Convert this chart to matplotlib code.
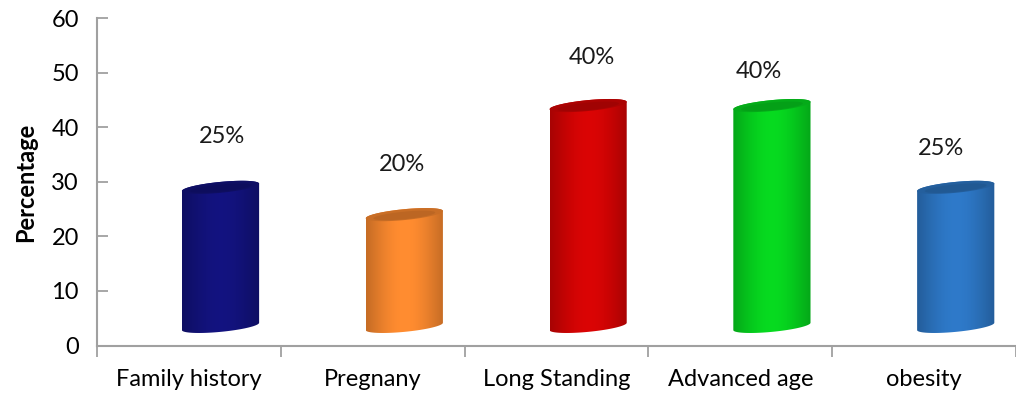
import numpy as np
import matplotlib
matplotlib.use("Agg")
import matplotlib.pyplot as plt
from matplotlib.path import Path
from matplotlib.patches import PathPatch
from matplotlib.colors import to_rgb

# data
categories = ["Family history", "Pregnany", "Long Standing", "Advanced age", "obesity"]
values = [25, 20, 40, 40, 25]
labels = ["25%", "20%", "40%", "40%", "25%"]
colors = ["#12127a", "#f5862e", "#d00404", "#06d01e", "#2c74c0"]

# placement of the value labels (as drawn in the original)
label_dx = [0.18, 0.16, 0.19, 0.10, 0.09]
label_dy = [13.3, 13.1, 12.8, 10.2, 11.2]

plt.rcParams['font.family'] = ['Lato', 'DejaVu Sans']

fig = plt.figure(figsize=(10.16, 3.97), dpi=100)
ax = fig.add_axes([97 / 1016, (397 - 345.5) / 397, 1 - 97 / 1016, (345.5 - 18.3) / 397])
ax.set_xlim(-0.5, 4.44)
ax.set_ylim(0, 60)

depth_x = 0.172    # 3d shift of the cylinders
depth_y = 3.5
half_w = 0.21
half_h = 1.0       # vertical semi axis of the caps
shear = 3.2        # caps tilted up to the right


def ring(cx, cy, t):
    x = cx + half_w * np.cos(t)
    y = cy + half_h * np.sin(t) + shear * (x - cx)
    return x, y


def cylinder(i, v, col):
    cx = i + depth_x
    yb = depth_y
    yt = v + depth_y + 0.5
    t1 = np.linspace(np.pi, 2 * np.pi, 60)
    t2 = np.linspace(0, np.pi, 60)
    xb, ybb = ring(cx, yb, t1)
    xt, ytt = ring(cx, yt, t2)
    xs = np.concatenate([xb, xt, [xb[0]]])
    ys = np.concatenate([ybb, ytt, [ybb[0]]])
    path = Path(np.column_stack([xs, ys]))
    patch = PathPatch(path, facecolor="none", edgecolor="none")
    ax.add_patch(patch)

    # horizontal shading across the body
    base = np.array(to_rgb(col))
    u = np.linspace(-1, 1, 200)
    shade = 0.78 + 0.27 * np.cos(u * np.pi / 2.2) ** 1.2
    img = np.clip(base[None, :] * shade[:, None], 0, 1)
    img = img[None, :, :]
    im = ax.imshow(img, extent=[cx - half_w, cx + half_w, ys.min(), ys.max()],
                   aspect="auto", interpolation="bilinear", zorder=2)
    im.set_clip_path(patch)

    # top cap
    tt = np.linspace(0, 2 * np.pi, 120)
    xc, yc = ring(cx, yt, tt)
    ax.fill(xc, yc, color=base * 0.82, zorder=3, lw=0)
    xi, yi = cx + 0.8 * half_w * np.cos(tt), yt - 0.15 + 0.7 * half_h * np.sin(tt)
    yi = yi + shear * (xi - cx)
    ax.fill(xi, yi, color=base * 0.72, zorder=3, lw=0, alpha=0.5)


for i, (v, c) in enumerate(zip(values, colors)):
    cylinder(i, v, c)
    ax.text(i + label_dx[i], v + label_dy[i], labels[i], ha="center", va="center",
            fontsize=17, color="#1a1a1a")

ax.set_xticks(np.arange(len(categories)))
ax.set_xticklabels(categories, fontsize=17)
ax.set_xticks(np.arange(-0.5, len(categories), 1), minor=True)
ax.tick_params(axis="x", which="major", length=0, pad=17)
ax.tick_params(axis="x", which="minor", length=8, direction="out", color="#a0a0a0", width=1.3)
ax.set_yticks(np.arange(0, 61, 10))
ax.tick_params(axis="y", direction="in", length=8, color="#a0a0a0", width=1.3,
               labelsize=17, pad=13)
ax.set_ylabel("Percentage", fontsize=17, fontweight="bold", labelpad=10)

for s in ["top", "right"]:
    ax.spines[s].set_visible(False)
for s in ["left", "bottom"]:
    ax.spines[s].set_color("#a0a0a0")
    ax.spines[s].set_linewidth(1.5)

fig.savefig("out.png", dpi=100)
